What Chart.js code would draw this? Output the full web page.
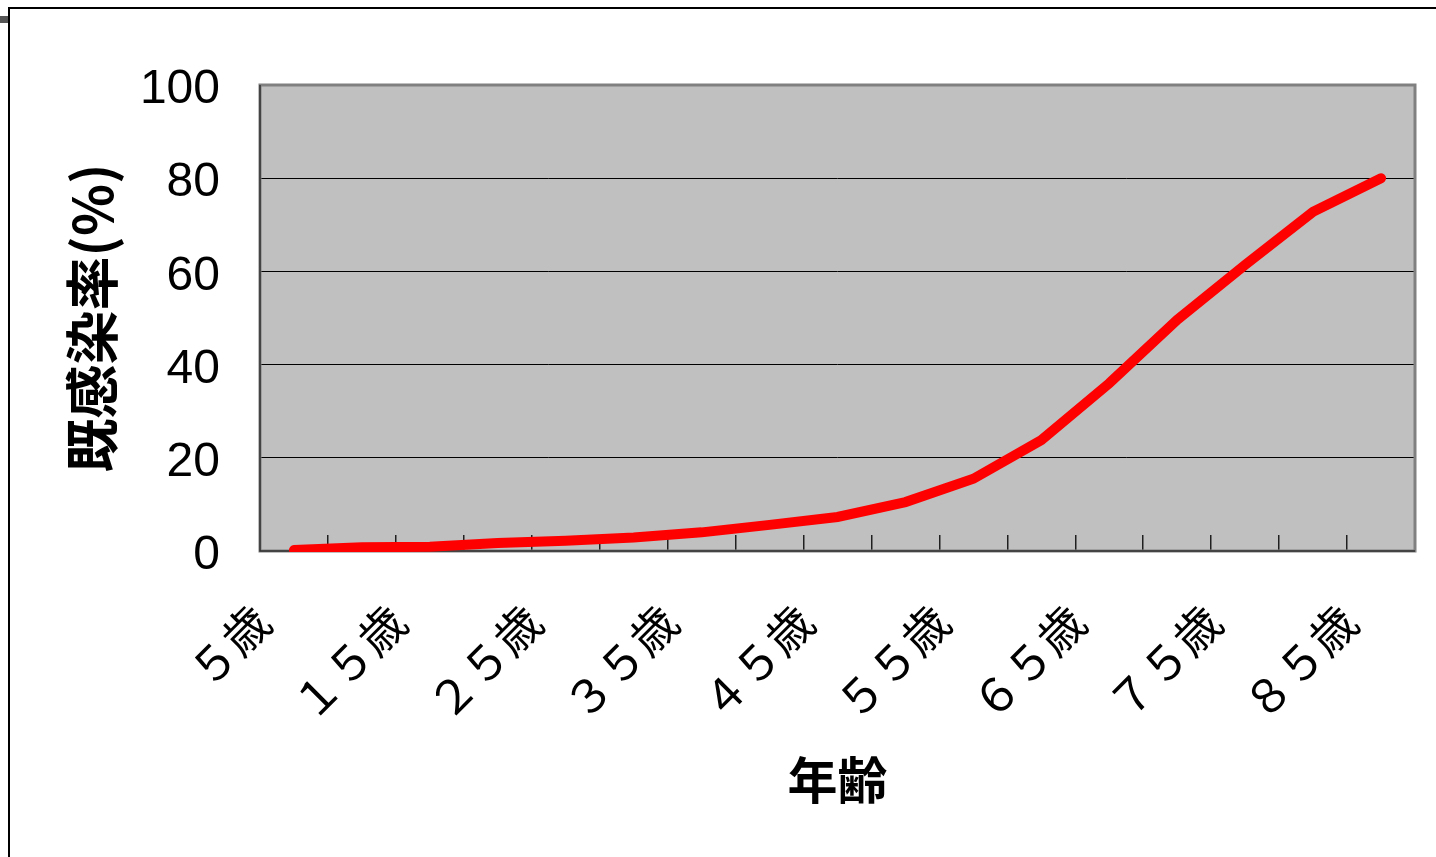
<!DOCTYPE html>
<html lang="ja">
<head>
<meta charset="UTF-8">
<title>年齢別 既感染率</title>
<script src="https://cdn.jsdelivr.net/npm/chart.js@4.4.1/dist/chart.umd.min.js"></script>
<style>
    html, body { margin: 0; padding: 0; background: #fff; }
    body { width: 1436px; height: 857px; position: relative; overflow: hidden; }
    #frame {
        position: absolute; left: 8px; top: 7px; right: -2px; bottom: -2px;
        border-top: 2px solid #000; border-left: 2px solid #000;
    }
    #handle { position: absolute; left: 0; top: 16px; width: 8px; height: 7px; background: #555; }
    #myChart { position: absolute; left: 0; top: 0; }
</style>
</head>
<body>
<div id="frame"></div>
<div id="handle"></div>
<canvas id="myChart" width="1436" height="857"></canvas>

<script>
// ---------------- DATA ----------------
const ageLabels = [
    "５歳", "１０歳", "１５歳", "２０歳", "２５歳", "３０歳", "３５歳", "４０歳", "４５歳",
    "５０歳", "５５歳", "６０歳", "６５歳", "７０歳", "７５歳", "８０歳", "８５歳"
];
const infectionRate = [
    0.2, 0.8, 0.9, 1.7, 2.2, 2.9, 4.0, 5.6, 7.3,
    10.5, 15.5, 23.8, 36, 49.6, 61.4, 72.8, 80
];
const yTicks = [0, 20, 40, 60, 80, 100];

const jpFont = "'Noto Sans CJK JP', 'Noto Sans', sans-serif";

// gray plot background + frame around the plot area
const plotBox = {
    id: "plotBox",
    beforeDraw(chart) {
        const { ctx, chartArea: a } = chart;
        ctx.save();
        ctx.fillStyle = "#c0c0c0";
        ctx.fillRect(a.left, a.top, a.right - a.left, a.bottom - a.top);
        ctx.restore();
    },
    beforeDatasetsDraw(chart) {
        const { ctx, chartArea: a } = chart;
        ctx.save();
        ctx.strokeStyle = "#808080";
        ctx.lineWidth = 3;
        ctx.strokeRect(a.left, a.top, a.right - a.left, a.bottom - a.top);
        ctx.strokeStyle = "#303030";
        ctx.lineWidth = 1.5;
        ctx.beginPath();
        ctx.moveTo(a.left, a.top);
        ctx.lineTo(a.left, a.bottom);
        ctx.lineTo(a.right, a.bottom);
        ctx.stroke();
        ctx.restore();
    }
};

const ctx = document.getElementById("myChart").getContext("2d");

const chart = new Chart(ctx, {
    type: "line",
    data: {
        labels: ageLabels,
        datasets: [{
            label: "既感染率",
            data: infectionRate,
            borderColor: "#ff0000",
            borderWidth: 10,
            borderCapStyle: "round",
            pointRadius: 0,
            tension: 0,
            fill: false,
            clip: { left: 10, right: 10, top: 10, bottom: 1 }
        }]
    },
    options: {
        responsive: false,
        animation: false,
        layout: {
            padding: { left: 60, top: 85, right: 21, bottom: 47 }
        },
        plugins: {
            legend: { display: false },
            tooltip: { enabled: false }
        },
        scales: {
            x: {
                offset: true,
                grid: {
                    offset: true,
                    drawOnChartArea: false,
                    drawTicks: true,
                    tickLength: -16,
                    color: "#202020",
                    lineWidth: 1.5
                },
                border: { display: false },
                ticks: {
                    autoSkip: false,
                    minRotation: 45,
                    maxRotation: 45,
                    padding: 59,
                    labelOffset: -32,
                    color: "#000",
                    font: { family: jpFont, size: 46 },
                    // every other age gets a label
                    callback: function (value, index) {
                        return index % 2 === 0 ? ageLabels[index] : "";
                    }
                },
                title: {
                    display: true,
                    text: "年齢",
                    color: "#000",
                    padding: 0,
                    font: { family: jpFont, size: 50, weight: "bold" }
                },
                afterFit(scale) {
                    scale.height = 259;
                    // rotated labels should not squeeze the plot from the sides
                    scale.paddingLeft = 0;
                    scale.paddingRight = 0;
                }
            },
            y: {
                min: 0,
                max: 100,
                afterBuildTicks(scale) {
                    scale.ticks = yTicks.map(v => ({ value: v }));
                },
                grid: {
                    color: "#000",
                    lineWidth: 1,
                    drawTicks: false
                },
                border: { display: false },
                ticks: {
                    padding: 40,
                    labelOffset: 5,
                    color: "#000",
                    font: { family: "'Liberation Sans', Arial, sans-serif", size: 48 }
                },
                title: {
                    display: true,
                    text: "既感染率(%)",
                    color: "#000",
                    padding: 0,
                    font: { family: jpFont, size: 54, weight: "bold" }
                },
                afterFit(scale) {
                    scale.width = 200;
                }
            }
        }
    },
    plugins: [plotBox]
});
</script>
</body>
</html>
